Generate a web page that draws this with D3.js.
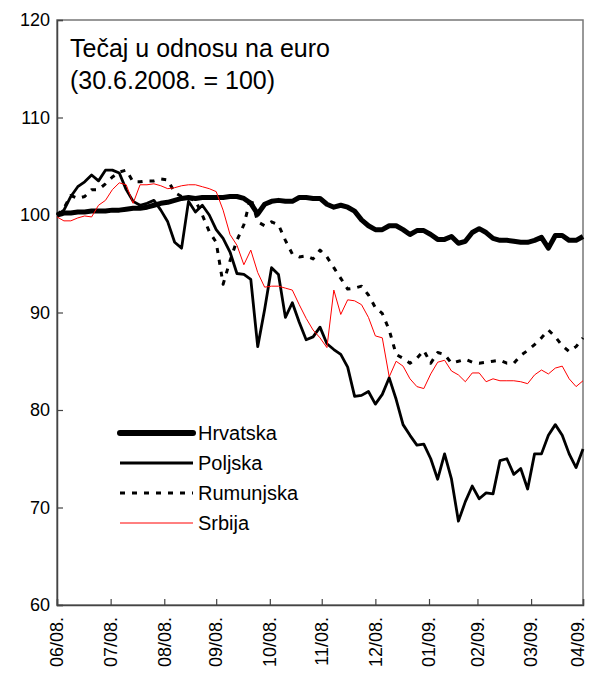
<!DOCTYPE html>
<html>
<head>
<meta charset="utf-8">
<script src="https://cdn.jsdelivr.net/npm/d3@7"></script>
<style>
  body { margin: 0; background: #fff; }
  svg { display: block; font-family: Arial, "Liberation Sans", sans-serif; }
</style>
</head>
<body>
<div id="chart"></div>
<script>
// dates of the sampled points (every 4 days, 30.6.2008. - 30.4.2009.)
var dates = [
  "2008-06-30","2008-07-04","2008-07-08","2008-07-12","2008-07-16","2008-07-20","2008-07-24","2008-07-28",
  "2008-08-01","2008-08-05","2008-08-09","2008-08-13","2008-08-17","2008-08-21","2008-08-25","2008-08-29",
  "2008-09-02","2008-09-06","2008-09-10","2008-09-14","2008-09-18","2008-09-22","2008-09-26","2008-09-30",
  "2008-10-04","2008-10-08","2008-10-12","2008-10-16","2008-10-20","2008-10-24","2008-10-28",
  "2008-11-01","2008-11-05","2008-11-09","2008-11-13","2008-11-17","2008-11-21","2008-11-25","2008-11-29",
  "2008-12-03","2008-12-07","2008-12-11","2008-12-15","2008-12-19","2008-12-23","2008-12-27","2008-12-31",
  "2009-01-04","2009-01-08","2009-01-12","2009-01-16","2009-01-20","2009-01-24","2009-01-28",
  "2009-02-01","2009-02-05","2009-02-09","2009-02-13","2009-02-17","2009-02-21","2009-02-25",
  "2009-03-01","2009-03-05","2009-03-09","2009-03-13","2009-03-17","2009-03-21","2009-03-25","2009-03-29",
  "2009-04-02","2009-04-06","2009-04-10","2009-04-14","2009-04-18","2009-04-22","2009-04-26","2009-04-30"
];

var hrvatska = [
  100.0,100.2,100.2,100.3,100.3,100.4,100.4,100.4,
  100.5,100.5,100.6,100.7,100.7,100.8,101.0,101.2,
  101.3,101.5,101.7,101.8,101.7,101.8,101.8,101.8,
  101.8,101.9,101.9,101.7,101.2,100.1,101.1,
  101.4,101.5,101.4,101.4,101.8,101.8,101.7,101.7,
  101.1,100.8,101.0,100.8,100.4,99.5,98.9,98.5,
  98.5,98.9,98.9,98.5,98.0,98.4,98.4,
  98.0,97.5,97.5,97.8,97.1,97.3,98.2,
  98.6,98.2,97.6,97.4,97.4,97.3,97.2,97.2,
  97.4,97.7,96.6,97.9,97.9,97.4,97.4,97.8
];

var poljska = [
  100.0,100.5,101.9,102.9,103.4,104.1,103.5,104.6,
  104.6,104.3,102.6,101.4,101.0,101.2,101.5,100.5,
  99.3,97.2,96.6,101.4,100.3,101.0,100.0,98.5,
  97.6,96.2,94.0,93.9,93.4,86.5,90.3,
  94.6,93.9,89.5,91.0,89.0,87.2,87.5,88.5,
  86.8,86.2,85.7,84.4,81.4,81.5,81.9,80.6,
  81.6,83.3,81.1,78.5,77.4,76.4,76.5,
  75.0,72.9,75.5,72.9,68.6,70.6,72.2,
  70.9,71.5,71.4,74.8,75.0,73.4,74.0,71.9,
  75.5,75.5,77.4,78.5,77.4,75.5,74.1,76.0
];

var rumunjska = [
  100.0,100.7,102.0,101.7,101.9,102.6,102.6,103.2,
  103.9,104.4,104.6,103.4,103.4,103.5,103.5,103.7,
  103.6,102.3,101.9,101.7,101.5,100.0,98.3,97.2,
  92.9,95.3,97.4,99.0,101.8,99.3,98.9,
  99.3,99.0,97.4,96.0,95.7,95.8,95.5,96.4,
  95.7,94.6,93.5,92.4,92.5,92.7,91.8,90.5,
  89.9,88.2,85.7,85.3,84.8,85.3,86.1,
  84.8,85.9,85.7,84.8,85.0,85.2,84.9,
  84.8,84.9,85.0,85.1,84.8,84.8,85.6,86.1,
  86.7,87.4,88.2,87.5,86.6,86.0,86.5,87.4
];

var srbija = [
  99.8,99.4,99.4,99.7,99.9,99.8,101.0,101.5,
  102.6,103.3,103.1,101.2,103.1,103.1,103.2,103.0,
  102.7,102.8,103.0,103.1,103.1,102.9,102.7,102.4,
  100.5,98.0,96.9,94.9,96.4,94.1,92.6,
  92.7,92.7,92.5,92.3,90.8,89.4,88.2,87.4,
  86.4,92.3,89.8,91.3,91.2,90.8,89.5,87.6,
  87.4,83.4,85.0,84.5,83.2,82.4,82.2,
  83.7,84.9,85.1,84.0,83.6,82.9,83.8,
  83.8,82.9,83.2,83.0,83.0,83.0,82.9,82.7,
  83.6,84.1,83.7,84.3,84.5,83.2,82.4,83.0
];

var seriesNames = ["Hrvatska", "Poljska", "Rumunjska", "Srbija"];
var yTicks = [60, 70, 80, 90, 100, 110, 120];
var tickDates = ["2008-06-30","2008-07-31","2008-08-31","2008-09-30","2008-10-31","2008-11-30",
                 "2008-12-31","2009-01-31","2009-02-28","2009-03-31","2009-04-30"];
var tickLabels = ["06/08.","07/08.","08/08.","09/08.","10/08.","11/08.",
                  "12/08.","01/09.","02/09.","03/09.","04/09."];

var W = 589, H = 677;
var margin = {left: 57, right: 6, top: 20, bottom: 72};
var parse = d3.timeParse("%Y-%m-%d");

var svg = d3.select("#chart").append("svg")
  .attr("width", W).attr("height", H);

var x = d3.scaleTime()
  .domain([parse(dates[0]), parse(dates[dates.length - 1])])
  .range([margin.left, W - margin.right]);
var y = d3.scaleLinear()
  .domain([60, 120])
  .range([H - margin.bottom, margin.top]);

// plot frame
svg.append("rect")
  .attr("x", margin.left).attr("y", margin.top)
  .attr("width", W - margin.right - margin.left)
  .attr("height", H - margin.bottom - margin.top)
  .attr("fill", "none").attr("stroke", "#777").attr("stroke-width", 1.5);

// y axis
var yAxis = svg.append("g")
  .attr("transform", "translate(" + margin.left + ",0)")
  .call(d3.axisRight(y).tickValues(yTicks).tickSize(6).tickFormat(""));
yAxis.select(".domain").attr("stroke", "#444").attr("stroke-width", 1.5);
yAxis.selectAll(".tick line").attr("stroke", "#444").attr("stroke-width", 1.2);

svg.append("g").selectAll("text")
  .data(yTicks)
  .enter().append("text")
  .attr("x", 50).attr("y", function(d) { return y(d); })
  .attr("dy", "0.35em")
  .attr("text-anchor", "end")
  .attr("font-size", 18)
  .text(function(d) { return d; });

// x axis
var xAxis = svg.append("g")
  .attr("transform", "translate(0," + (H - margin.bottom) + ")")
  .call(d3.axisTop(x).tickValues(tickDates.map(parse)).tickSize(6).tickFormat(""));
xAxis.select(".domain").attr("stroke", "#444").attr("stroke-width", 1.5);
xAxis.selectAll(".tick line").attr("stroke", "#444").attr("stroke-width", 1.2);

// rotated month labels; the last one is kept inside the page
svg.append("g").selectAll("text")
  .data(tickDates)
  .enter().append("text")
  .attr("transform", function(d) {
    var lx = Math.min(x(parse(d)), W - 11);
    return "translate(" + lx + "," + (H - margin.bottom + 12) + ") rotate(-90)";
  })
  .attr("dy", "0.35em")
  .attr("text-anchor", "end")
  .attr("font-size", 18)
  .text(function(d, i) { return tickLabels[i]; });

// lines
var line = d3.line()
  .x(function(d) { return x(d[0]); })
  .y(function(d) { return y(d[1]); });

var styles = {
  Hrvatska:  {stroke: "#000", width: 5, dash: null},
  Poljska:   {stroke: "#000", width: 2.8, dash: null},
  Rumunjska: {stroke: "#000", width: 3, dash: "5,7"},
  Srbija:    {stroke: "#ff0000", width: 1, dash: null}
};
var values = {Hrvatska: hrvatska, Poljska: poljska, Rumunjska: rumunjska, Srbija: srbija};

seriesNames.forEach(function(name) {
  var pts = dates.map(function(d, i) { return [parse(d), values[name][i]]; });
  svg.append("path")
    .datum(pts)
    .attr("d", line)
    .attr("fill", "none")
    .attr("stroke", styles[name].stroke)
    .attr("stroke-width", styles[name].width)
    .attr("stroke-linejoin", "round")
    .attr("stroke-dasharray", styles[name].dash);
});

// title
var title = svg.append("text").attr("font-size", 25).attr("fill", "#000");
title.append("tspan").attr("x", 70).attr("y", 57).text("Tečaj u odnosu na euro");
title.append("tspan").attr("x", 70).attr("y", 89).text("(30.6.2008. = 100)");

// legend
var legend = svg.append("g").selectAll("g")
  .data(seriesNames)
  .enter().append("g")
  .attr("transform", function(d, i) { return "translate(120," + (433 + i * 30) + ")"; });

legend.append("line")
  .attr("x1", 0).attr("x2", 73)
  .attr("stroke", function(d) { return styles[d].stroke; })
  .attr("stroke-width", function(d) { return styles[d].width + (d === "Hrvatska" ? 1 : 0); })
  .attr("stroke-linecap", function(d) { return d === "Hrvatska" ? "round" : "butt"; })
  .attr("stroke-dasharray", function(d) { return styles[d].dash; });

legend.append("text")
  .attr("x", 78).attr("dy", "0.35em")
  .attr("font-size", 20)
  .text(function(d) { return d; });
</script>
</body>
</html>
